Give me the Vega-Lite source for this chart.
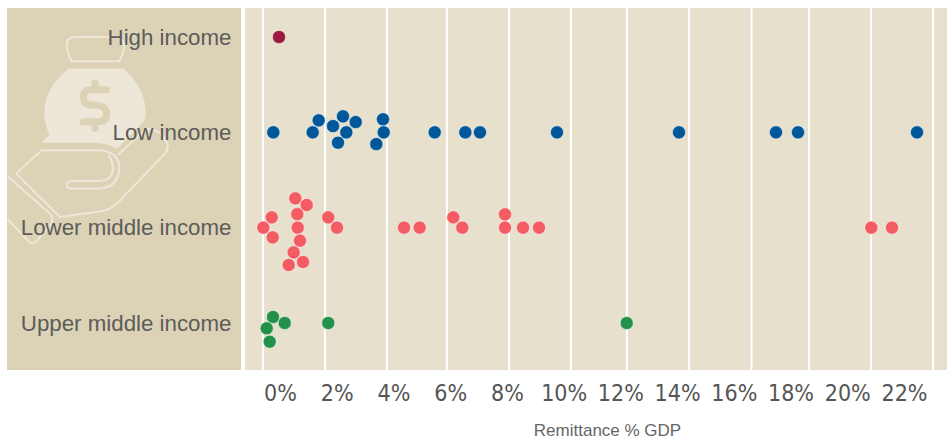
{
"$schema":"https://vega.github.io/schema/vega-lite/v6.json",
"width":940,"height":362,
"autosize":{"type":"none"},
"padding":{"left":7,"top":8,"right":0,"bottom":71},
"background":"#ffffff",
"config":{"view":{"stroke":null}},
"datasets":{
"panels":[{"panel":"icon","start":-8.407,"end":-0.7225},{"panel":"plot","start":-0.591,"end":22.463}],
"grid":[{"grid":0},{"grid":2.036},{"grid":4.07},{"grid":6.04},{"grid":8.08},{"grid":10.11},{"grid":11.95},{"grid":13.99},{"grid":16.04},{"grid":17.93},{"grid":19.97},{"grid":22}],
"countries":[
{"income":"High income","remittance":0.525,"swarm":0},
{"income":"Low income","remittance":0.338,"swarm":0},
{"income":"Low income","remittance":1.829,"swarm":-12},
{"income":"Low income","remittance":1.632,"swarm":0},
{"income":"Low income","remittance":2.299,"swarm":-6.3},
{"income":"Low income","remittance":2.627,"swarm":-16},
{"income":"Low income","remittance":3.044,"swarm":-10.3},
{"income":"Low income","remittance":2.736,"swarm":0},
{"income":"Low income","remittance":2.463,"swarm":10.4},
{"income":"Low income","remittance":3.941,"swarm":-13},
{"income":"Low income","remittance":3.964,"swarm":0},
{"income":"Low income","remittance":3.721,"swarm":11.7},
{"income":"Low income","remittance":5.639,"swarm":0},
{"income":"Low income","remittance":6.644,"swarm":0},
{"income":"Low income","remittance":7.126,"swarm":0},
{"income":"Low income","remittance":9.655,"swarm":0},
{"income":"Low income","remittance":13.662,"swarm":0},
{"income":"Low income","remittance":16.847,"swarm":0},
{"income":"Low income","remittance":17.57,"swarm":0},
{"income":"Low income","remittance":21.478,"swarm":0},
{"income":"Lower middle income","remittance":1.061,"swarm":-29.3},
{"income":"Lower middle income","remittance":1.435,"swarm":-22.7},
{"income":"Lower middle income","remittance":1.126,"swarm":-13.5},
{"income":"Lower middle income","remittance":0.286,"swarm":-10.3},
{"income":"Lower middle income","remittance":2.144,"swarm":-10.3},
{"income":"Lower middle income","remittance":0.01,"swarm":0},
{"income":"Lower middle income","remittance":1.14,"swarm":0},
{"income":"Lower middle income","remittance":2.43,"swarm":0},
{"income":"Lower middle income","remittance":0.319,"swarm":9.7},
{"income":"Lower middle income","remittance":1.215,"swarm":13},
{"income":"Lower middle income","remittance":1.008,"swarm":24.7},
{"income":"Lower middle income","remittance":0.844,"swarm":37.3},
{"income":"Lower middle income","remittance":1.314,"swarm":34.3},
{"income":"Lower middle income","remittance":4.631,"swarm":0},
{"income":"Lower middle income","remittance":5.146,"swarm":0},
{"income":"Lower middle income","remittance":6.25,"swarm":-10.3},
{"income":"Lower middle income","remittance":6.545,"swarm":0},
{"income":"Lower middle income","remittance":7.947,"swarm":-13.3},
{"income":"Lower middle income","remittance":7.947,"swarm":0},
{"income":"Lower middle income","remittance":8.539,"swarm":0},
{"income":"Lower middle income","remittance":9.064,"swarm":0},
{"income":"Lower middle income","remittance":19.977,"swarm":0},
{"income":"Lower middle income","remittance":20.657,"swarm":0},
{"income":"Upper middle income","remittance":0.328,"swarm":-6},
{"income":"Upper middle income","remittance":0.713,"swarm":0},
{"income":"Upper middle income","remittance":0.122,"swarm":5.3},
{"income":"Upper middle income","remittance":0.22,"swarm":18.7},
{"income":"Upper middle income","remittance":2.144,"swarm":0},
{"income":"Upper middle income","remittance":11.944,"swarm":0}
],
"ticks":[{"tick":0},{"tick":2},{"tick":4},{"tick":6},{"tick":8},{"tick":10},{"tick":12},{"tick":14},{"tick":16},{"tick":18},{"tick":20},{"tick":22}]
},
"layer":[
{"layer":[
{"data":{"name":"panels"},"mark":{"type":"rect"},
 "encoding":{"x":{"field":"start","type":"quantitative","scale":{"domain":[-8.407,22.463],"nice":false,"zero":false},"axis":null},"x2":{"field":"end"},
 "fill":{"field":"panel","type":"nominal","scale":{"domain":["icon","plot"],"range":["#dcd3b6","#e6e0cc"]},"legend":null}}},
{"data":{"values":[{"part":"bag"}]},"mark":{"type":"point","filled":true,"size":4,"clip":true,"opacity":1,"fill":"#ede7d9","stroke":null,
 "shape":"M-51.7 -63.7L4 -63.7Q25.7 -43.7 25.7 -18.7Q25.7 -14.7 24.3 -11.3L-2.7 16.3Q-13.3 10.3 -25 10.3L-78.3 10.3L-70.7 2Q-75.7 -8.7 -75.7 -20.3Q-75.7 -43.7 -51.7 -63.7Z"},
 "encoding":{"x":{"datum":-4.696,"type":"quantitative"},"y":{"datum":"Low income","type":"nominal"}}},
{"data":{"values":[{"part":"dollar"}]},"mark":{"type":"point","filled":false,"size":4,"clip":true,"opacity":1,"fill":null,"stroke":"#dcd3b6","strokeWidth":7,"strokeCap":"round",
 "shape":"M-13.3 -42.7L-28.3 -42.7Q-36.7 -42.7 -36.7 -34.7Q-36.7 -27 -25 -27Q-13.3 -27 -13.3 -18.7Q-13.3 -10.7 -21.7 -10.7L-36.7 -10.7M-25 -49.3L-25 -42.7M-25 -10.7L-25 -4"},
 "encoding":{"x":{"datum":-4.696,"type":"quantitative"},"y":{"datum":"Low income","type":"nominal"}}},
{"data":{"values":[{"part":"hand"}]},"mark":{"type":"point","filled":false,"size":4,"clip":true,"opacity":1,"fill":null,"stroke":"#ede7d9","strokeWidth":2,
 "shape":"M-48.3 -71L-1 -71Q4.3 -80.3 4.3 -87Q3.3 -95.3 -5 -95.3L-45 -95.3Q-53.3 -95.3 -53.3 -87Q-53.3 -80.3 -48.3 -71ZM-104 41.3L-78.3 18L-23.3 18Q-0.7 18 -0.7 36.3Q-1.7 56.3 -23.3 56.3L-48.3 56.3Q-53.3 56.3 -53.3 52.3Q-53.3 48.7 -48.3 48.7L-23.3 48.7Q-7.3 48.7 -7.3 36.3Q-7.3 27 -12 23M-104 41.3L-60 84.7L-16.7 78.7Q-6.7 76.3 3.3 64.7L43.3 23Q50 16.3 46.7 9.7Q40 -3.7 26.7 -3.7L-2.7 23M-112.7 43.7L-70 81.3Q-65 88 -70 93L-83.3 108.7Q-87.7 113 -91.7 108.7L-112.7 86.3"},
 "encoding":{"x":{"datum":-4.696,"type":"quantitative"},"y":{"datum":"Low income","type":"nominal"}}},
{"data":{"name":"grid"},"mark":{"type":"rule","color":"#ffffff","strokeWidth":2},
 "encoding":{"x":{"field":"grid","type":"quantitative"}}},
{"data":{"name":"countries"},"mark":{"type":"point","filled":true,"size":172,"opacity":1,"stroke":"#ffffff","strokeWidth":0.5},
 "encoding":{
 "x":{"field":"remittance","type":"quantitative"},
 "y":{"field":"income","type":"nominal","sort":["High income","Low income","Lower middle income","Upper middle income"],
  "scale":{"type":"point","domain":["High income","Low income","Lower middle income","Upper middle income"],"range":[29,315],"padding":0},
  "axis":{"title":null,"domain":false,"ticks":false,"grid":false,"orient":"left","offset":-234,"labelPadding":10,"labelFont":"Liberation Sans","labelFontSize":22.3,"labelColor":"#5c5c5c","labelLimit":300,"zindex":1}},
 "yOffset":{"field":"swarm","type":"quantitative","scale":{"domain":[-40,40],"range":[-40,40]}},
 "color":{"field":"income","type":"nominal","scale":{"domain":["High income","Low income","Lower middle income","Upper middle income"],"range":["#9b1b40","#00589b","#f25c62","#24914a"]},"legend":null}}}
]},
{"data":{"name":"ticks"},"mark":{"type":"rule","opacity":0},
 "encoding":{"x":{"field":"tick","type":"quantitative",
 "scale":{"domain":[-9.625,23.516],"nice":false,"zero":false},
 "axis":{"orient":"bottom","values":[0,2,4,6,8,10,12,14,16,18,20,22],"labelExpr":"datum.value+'%'","domain":false,"ticks":false,"grid":false,
  "labelFont":"DejaVu Sans Condensed","labelFontSize":23,"labelFontWeight":"normal","labelColor":"#555555","labelPadding":12,"labelOverlap":false,"labelFlush":false,
  "title":"Remittance % GDP","titleFont":"Liberation Sans","titleFontSize":17,"titleFontWeight":"normal","titleColor":"#666666","titleX":600,"titleY":65,"titleAnchor":"middle","titleAlign":"center","titleBaseline":"alphabetic"}}}}
],
"resolve":{"scale":{"x":"independent"},"axis":{"x":"independent"}}
}
